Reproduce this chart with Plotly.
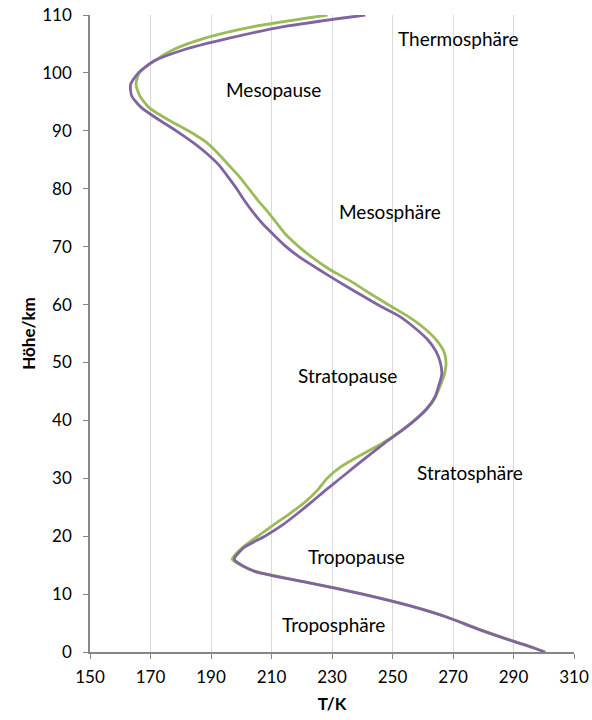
import plotly.graph_objects as go

# Altitude levels (km) and temperature profiles (K) for the two series
heights = [0, 1, 2, 4, 6, 8, 10, 12, 14, 16, 18, 20, 22, 24, 26, 28, 30, 32, 34,
           36, 38, 40, 42, 44, 46, 48, 50, 52, 54, 56, 58, 60, 62, 64, 66, 68,
           70, 72, 74, 76, 78, 80, 82, 84, 86, 88, 90, 92, 94, 96, 98, 100,
           102, 104, 106, 108, 110]

temp_green = [300.6, 295.3, 289.3, 278.3, 268.3, 255.8, 240.3, 222.3, 204.2, 197.0,
              200.3, 205.5, 210.8, 216.3, 221.3, 225.3, 228.4, 233.0, 239.5,
              246.5, 252.3, 257.3, 261.5, 264.2, 265.8, 267.2, 267.7, 266.9,
              264.3, 260.3, 255.0, 248.5, 242.3, 236.3, 229.4, 223.8, 219.0,
              214.9, 211.8, 208.8, 205.5, 202.5, 199.5, 196.0, 192.5, 188.5,
              182.5, 175.5, 169.5, 166.5, 165.2, 166.3, 171.0, 177.5, 188.0,
              204.0, 228.5]

temp_purple = [300.3, 295.0, 289.0, 278.0, 268.0, 255.5, 240.0, 222.0, 204.0, 197.7,
               200.8, 207.8, 213.8, 218.8, 223.5, 228.0, 232.8, 237.5, 242.3,
               247.2, 252.5, 257.3, 261.3, 264.0, 265.3, 266.3, 265.8, 264.3,
               261.5, 257.3, 252.2, 245.0, 238.5, 232.0, 225.8, 219.8, 214.8,
               210.8, 207.0, 203.8, 201.0, 198.5, 195.7, 192.8, 188.8, 184.0,
               178.5, 172.5, 167.0, 163.8, 163.4, 166.0, 171.0, 181.0, 196.0,
               214.0, 241.0]

# Layer names placed inside the plot (T, h)
layer_names = ["Thermosphäre", "Mesopause", "Mesosphäre", "Stratopause",
               "Stratosphäre", "Tropopause", "Troposphäre"]
layer_t = [271.7, 210.7, 249.3, 235.1, 275.5, 238.1, 230.5]
layer_h = [106.0, 97.1, 76.0, 47.8, 31.0, 16.5, 4.7]

x_ticks = [150, 170, 190, 210, 230, 250, 270, 290, 310]
y_ticks = [0, 10, 20, 30, 40, 50, 60, 70, 80, 90, 100, 110]

FONT = "Lato, 'Open Sans', sans-serif"
AXIS_GREY = "#868686"

fig = go.Figure()
fig.add_trace(go.Scatter(x=temp_green, y=heights, mode="lines",
                         line=dict(color="#9BBB59", width=2.8,
                                   shape="spline", smoothing=0.6),
                         showlegend=False))
fig.add_trace(go.Scatter(x=temp_purple, y=heights, mode="lines",
                         line=dict(color="#8064A2", width=2.8,
                                   shape="spline", smoothing=0.6),
                         showlegend=False))

for name, t, h in zip(layer_names, layer_t, layer_h):
    fig.add_annotation(x=t, y=h, text=name, showarrow=False,
                       xanchor="center", yanchor="middle",
                       font=dict(family=FONT, size=19, color="#000000"))

fig.update_layout(
    width=592, height=720,
    margin=dict(l=89.5, r=18, t=15, b=68, autoexpand=False),
    paper_bgcolor="white", plot_bgcolor="white",
    font=dict(family=FONT, size=17, color="#000000"),
)
fig.update_xaxes(
    range=[150, 310], tickvals=x_ticks, ticktext=[str(v) for v in x_ticks],
    showgrid=True, gridcolor="#D9D9D9", gridwidth=1,
    showline=True, linecolor=AXIS_GREY, linewidth=1.5,
    ticks="outside", ticklen=5, tickcolor=AXIS_GREY, tickwidth=1.2,
    ticklabelstandoff=4, automargin=False,
    zeroline=False,
    title=dict(text="<b>T/K</b>", font=dict(family=FONT, size=17), standoff=12),
)
fig.update_yaxes(
    range=[0, 110], tickvals=y_ticks, ticktext=[str(v) for v in y_ticks],
    showgrid=False,
    showline=True, linecolor=AXIS_GREY, linewidth=1.5,
    ticks="outside", ticklen=5, tickcolor=AXIS_GREY, tickwidth=1.2,
    ticklabelstandoff=8, automargin=False,
    zeroline=False,
    title=dict(text="<b>Höhe/km</b>", font=dict(family=FONT, size=17), standoff=2),
)

fig.write_html("out.html")
